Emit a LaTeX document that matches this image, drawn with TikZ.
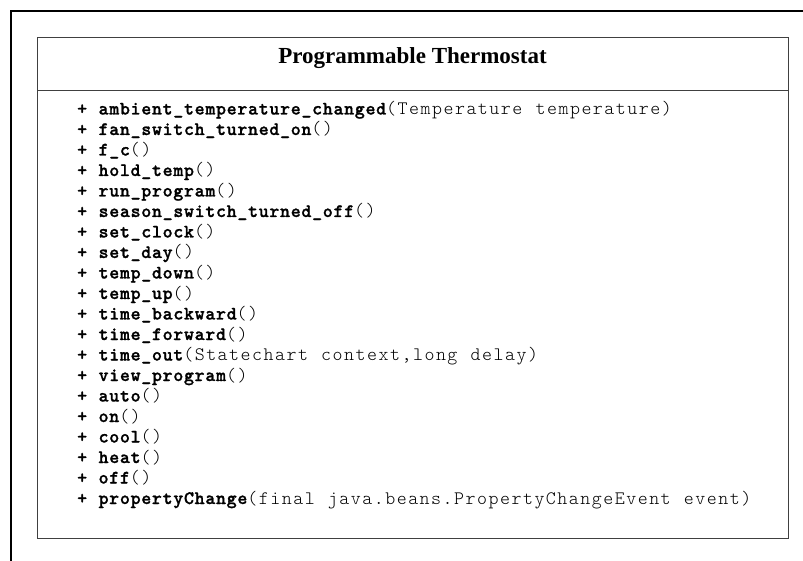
\documentclass[tikz,border=0pt]{standalone}
\usepackage{fontspec}
\setmainfont{Liberation Serif}
% typewriter faces for the operation rows, tracked out to a wide pitch
\newfontfamily\opfont[LetterSpace=3.7,WordSpace=1.07,FakeBold=1.2]{lmmonolt10-bold.otf}
\newfontfamily\argfont[LetterSpace=7.9,WordSpace=1.15]{lmmonolt10-regular.otf}

% one operation row: bold "+ name", regular "(arguments)"
\newcommand\opline[2]{{\opfont + #1}{\argfont(#2)}}

\begin{document}
\begin{tikzpicture}[x=1pt,y=-1pt,
  frameline/.style={draw=black,line width=2pt},
  classpart/.style={draw=black!75,line width=1pt,rectangle,inner sep=0pt,
    minimum width=751pt,anchor=north west},
  classtitle/.style={inner sep=0pt,anchor=base,
    font=\fontsize{23}{25}\selectfont\bfseries},
  oprow/.style={inner sep=0pt,anchor=base west,
    font=\fontsize{19}{20.5}\selectfont}]
\useasboundingbox (0,0) rectangle (803,561);

% diagram frame
\coordinate (frameNW) at (10.7,11);
\coordinate (frameNE) at (803,11);
\coordinate (frameSW) at (10.7,561);
\draw[frameline] (frameSW) -- (frameNW) -- (frameNE);

% class box: name compartment and operations compartment
\node[classpart,minimum height=52.2pt] (head) at (37.3,37.5) {};
\node[classpart,minimum height=447.8pt] (body) at (37.3,89.7) {};

\node[classtitle] (title) at (412.5,63.5) {Programmable Thermostat};

\node[oprow] (m1)  at (77,114.5) {\opline{ambient\_temperature\_changed}{Temperature temperature}};
\node[oprow] (m2)  at (77,135.0) {\opline{fan\_switch\_turned\_on}{}};
\node[oprow] (m3)  at (77,155.5) {\opline{f\_c}{}};
\node[oprow] (m4)  at (77,176.0) {\opline{hold\_temp}{}};
\node[oprow] (m5)  at (77,196.5) {\opline{run\_program}{}};
\node[oprow] (m6)  at (77,217.0) {\opline{season\_switch\_turned\_off}{}};
\node[oprow] (m7)  at (77,237.5) {\opline{set\_clock}{}};
\node[oprow] (m8)  at (77,258.0) {\opline{set\_day}{}};
\node[oprow] (m9)  at (77,278.5) {\opline{temp\_down}{}};
\node[oprow] (m10) at (77,299.0) {\opline{temp\_up}{}};
\node[oprow] (m11) at (77,319.5) {\opline{time\_backward}{}};
\node[oprow] (m12) at (77,340.0) {\opline{time\_forward}{}};
\node[oprow] (m13) at (77,360.5) {\opline{time\_out}{Statechart context,long delay}};
\node[oprow] (m14) at (77,381.0) {\opline{view\_program}{}};
\node[oprow] (m15) at (77,401.5) {\opline{auto}{}};
\node[oprow] (m16) at (77,422.0) {\opline{on}{}};
\node[oprow] (m17) at (77,442.5) {\opline{cool}{}};
\node[oprow] (m18) at (77,463.0) {\opline{heat}{}};
\node[oprow] (m19) at (77,483.5) {\opline{off}{}};
\node[oprow] (m20) at (77,504.0) {\opline{propertyChange}{final java.beans.PropertyChangeEvent event}};
\end{tikzpicture}
\end{document}
